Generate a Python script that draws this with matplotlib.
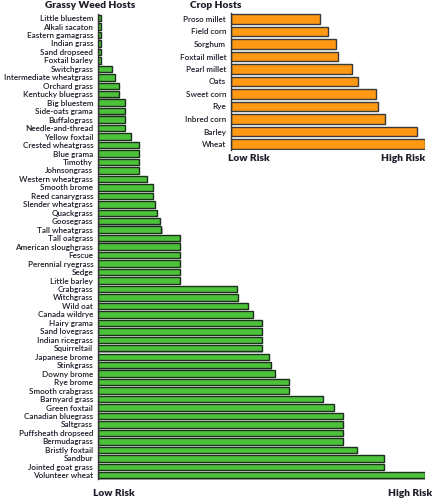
import matplotlib
matplotlib.use("Agg")
import matplotlib.pyplot as plt
import matplotlib.patheffects as pe

# --- Datos ---
weed_names = [
    "Little bluestem", "Alkali sacaton", "Eastern gamagrass", "Indian grass",
    "Sand dropseed", "Foxtail barley", "Switchgrass", "Intermediate wheatgrass",
    "Orchard grass", "Kentucky bluegrass", "Big bluestem", "Side-oats grama",
    "Buffalograss", "Needle-and-thread", "Yellow foxtail", "Crested wheatgrass",
    "Blue grama", "Timothy", "Johnsongrass", "Western wheatgrass", "Smooth brome",
    "Reed canarygrass", "Slender wheatgrass", "Quackgrass", "Goosegrass",
    "Tall wheatgrass", "Tall oatgrass", "American sloughgrass", "Fescue",
    "Perennial ryegrass", "Sedge", "Little barley", "Crabgrass", "Witchgrass",
    "Wild oat", "Canada wildrye", "Hairy grama", "Sand lovegrass",
    "Indian ricegrass", "Squirreltail", "Japanese brome", "Stinkgrass",
    "Downy brome", "Rye brome", "Smooth crabgrass", "Barnyard grass",
    "Green foxtail", "Canadian bluegrass", "Saltgrass", "Puffsheath dropseed",
    "Bermudagrass", "Bristly foxtail", "Sandbur", "Jointed goat grass",
    "Volunteer wheat",
]
weed_risk = [
    1, 1, 1, 1, 1, 1, 4.4, 5.1, 6.3, 6.3, 8.3, 8.3, 8.3, 8.3, 10.1, 12.6,
    12.6, 12.6, 12.6, 15.1, 16.8, 16.8, 17.5, 18.0, 18.9, 19.4, 25.1, 25.1,
    25.1, 25.1, 25.1, 25.1, 42.6, 42.8, 45.8, 47.5, 50.1, 50.1, 50.1, 50.1,
    52.2, 52.8, 54.2, 58.3, 58.3, 68.9, 72.2, 75.0, 75.0, 75.0, 75.0, 79.3,
    87.5, 87.5, 100,
]

crop_names = [
    "Proso millet", "Field corn", "Sorghum", "Foxtail millet", "Pearl millet",
    "Oats", "Sweet corn", "Rye", "Inbred corn", "Barley", "Wheat",
]
crop_risk = [45.7, 50.0, 54.3, 55.0, 62.5, 65.6, 74.9, 75.8, 79.2, 95.9, 100]

# --- Estilo ---
LABEL_FONT = ["Lato", "DejaVu Sans"]
TEXT_COLOR = "#1e1e2a"
shadow = [pe.SimplePatchShadow(offset=(0.8, -0.8), shadow_rgbFace="#9a9a9a", alpha=0.8), pe.Normal()]


def hbar_panel(ax, names, values, color, edge, height):
    pos = list(range(len(names)))
    bars = ax.barh(pos, values, height=height, color=color, edgecolor=edge, linewidth=1.0)
    for b in bars:
        b.set_path_effects(shadow)
    ax.set_xlim(0, 100)
    ax.set_ylim(len(names) - 0.5, -0.5)
    ax.set_yticks(pos)
    ax.set_yticklabels(names, family=LABEL_FONT, fontsize=5.9, fontweight="semibold",
                       color=TEXT_COLOR)
    ax.tick_params(axis="y", length=0, pad=3.5)
    ax.set_xticks([])
    for s in ["top", "right", "bottom"]:
        ax.spines[s].set_visible(False)
    ax.spines["left"].set_color("#333333")
    ax.spines["left"].set_linewidth(1.0)
    ax.set_facecolor("none")


fig = plt.figure(figsize=(4.4, 5.0), dpi=100)

ax_weed = fig.add_axes([98 / 440, 1 - 479.5 / 500, 327 / 440, 465.7 / 500])
hbar_panel(ax_weed, weed_names, weed_risk, "#4cc23a", "#1c2e1c", 0.76)

ax_crop = fig.add_axes([231 / 440, 1 - 150.25 / 500, 194 / 440, 137.5 / 500])
hbar_panel(ax_crop, crop_names, crop_risk, "#ff9812", "#3a3a3a", 0.74)

title_kw = dict(family=LABEL_FONT, fontsize=7.3, fontweight="heavy", color=TEXT_COLOR, va="center")
fig.text(90 / 440, 1 - 6 / 500, "Grassy Weed Hosts", ha="center", **title_kw)
fig.text(216 / 440, 1 - 6 / 500, "Crop Hosts", ha="center", **title_kw)

fig.text(93 / 440, 1 - 493 / 500, "Low Risk", ha="left", **title_kw)
fig.text(432 / 440, 1 - 493 / 500, "High Risk", ha="right", **title_kw)
fig.text(228 / 440, 1 - 158 / 500, "Low Risk", ha="left", **title_kw)
fig.text(425 / 440, 1 - 158 / 500, "High Risk", ha="right", **title_kw)

fig.savefig("out.png", dpi=100)
